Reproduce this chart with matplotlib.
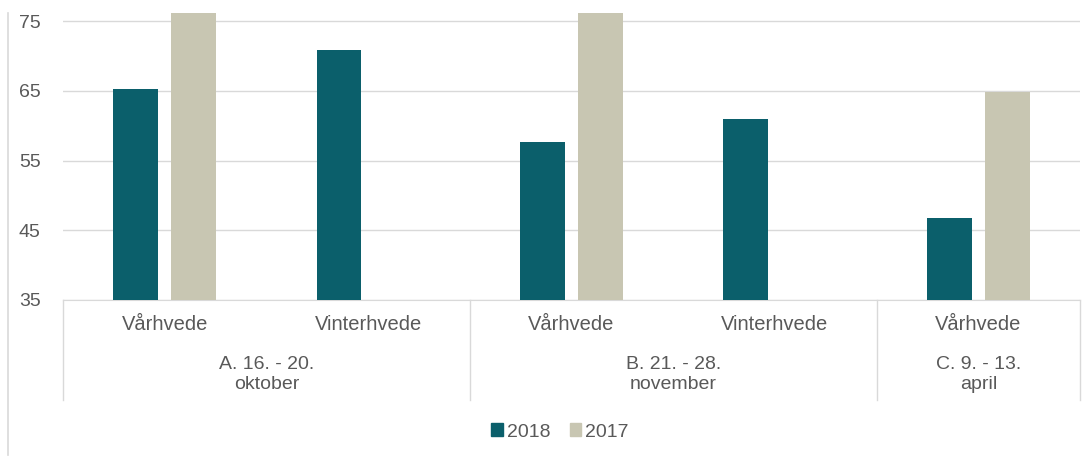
import numpy as np
import matplotlib.pyplot as plt
from matplotlib.patches import Patch
from matplotlib.lines import Line2D

plt.rcParams['font.family'] = ['Liberation Sans', 'DejaVu Sans']

crops = ['Vårhvede', 'Vinterhvede', 'Vårhvede', 'Vinterhvede', 'Vårhvede']
groups = [['A. 16. - 20.', 'oktober'], ['B. 21. - 28.', 'november'], ['C. 9. - 13.', 'april']]
group_sizes = [2, 2, 1]
v2018 = [65.3, 70.8, 57.6, 61.0, 46.7]
v2017 = [78.5, np.nan, 78.0, np.nan, 64.8]
yticks = [35, 45, 55, 65, 75]

c2018 = '#0b5f6b'
c2017 = '#c8c6b2'
txt = '#595959'
grid = '#d9d9d9'
fs = 14

fig = plt.figure(figsize=(10.92, 4.57), dpi=100)
ax = fig.add_axes([63/1092, 1 - 300/457, (1080 - 63)/1092, 287/457])

x = np.arange(len(crops))
w = 0.22
off = 0.143
ax.bar(x - off, v2018, w, color=c2018, zorder=3)
ax.bar(x + off, v2017, w, color=c2017, zorder=3)

ax.set_xlim(-0.5, len(crops) - 0.5)
ax.set_ylim(35, 76.15)
ax.set_yticks(yticks)
ax.tick_params(axis='y', length=0, pad=16, labelsize=fs, labelcolor=txt)
ax.set_xticks([])
ax.grid(axis='y', color=grid, linewidth=1, zorder=0)
for s in ['top', 'right', 'left']:
    ax.spines[s].set_visible(False)
ax.spines['bottom'].set_color(grid)

tr = ax.get_xaxis_transform()
for i, c in enumerate(crops):
    ax.text(i, -0.087, c, transform=tr, ha='center', va='center',
            fontsize=fs + 0.5, color=txt)

# group boxes
bounds = np.concatenate([[0], np.cumsum(group_sizes)]) - 0.5
for b in bounds:
    ax.add_line(Line2D([b, b], [0, -0.348], transform=tr, color=grid,
                       linewidth=1, clip_on=False))
for g, (a, b) in enumerate(zip(bounds[:-1], bounds[1:])):
    xc = (a + b) / 2
    ax.text(xc, -0.223, groups[g][0], transform=tr, ha='center', va='center',
            fontsize=fs, color=txt)
    ax.text(xc, -0.293, groups[g][1], transform=tr, ha='center', va='center',
            fontsize=fs, color=txt)

# outer left border
fig.add_artist(Line2D([8/1092, 8/1092], [1 - 13/457, 1 - 455/457],
                      color=grid, linewidth=1.2))

handles = [Patch(color=c2018, label='2018'), Patch(color=c2017, label='2017')]
fig.legend(handles=handles, loc='center', bbox_to_anchor=(560/1092, 1 - 432/457),
           ncol=2, frameon=False, fontsize=fs, labelcolor=txt,
           handlelength=0.6, handleheight=0.6, handletextpad=0.2,
           columnspacing=1.0)

fig.savefig('out.png', dpi=100)
